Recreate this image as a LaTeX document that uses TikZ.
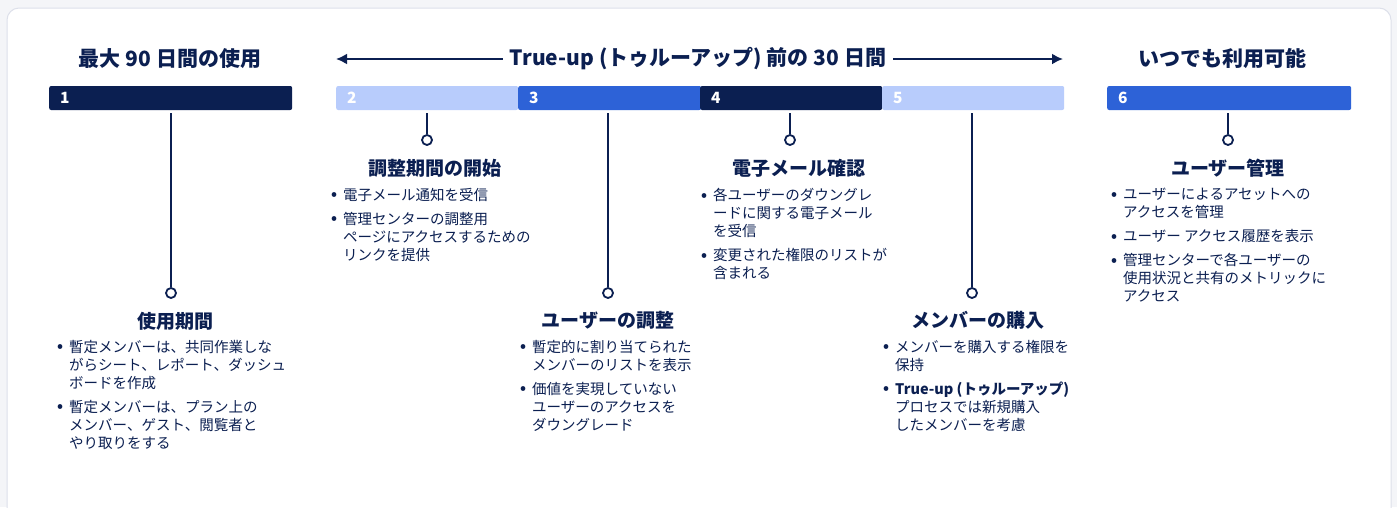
\documentclass[tikz,border=0pt]{standalone}
\usepackage{fontspec}
\setmainfont{Noto Sans CJK JP}
\usetikzlibrary{arrows.meta}
\definecolor{navy}{HTML}{0B1F51}
\definecolor{skyblue}{HTML}{B8CCFC}
\definecolor{midblue}{HTML}{2D62D7}
\definecolor{cardline}{HTML}{DDE0EA}
\definecolor{pagebg}{HTML}{F4F5F8}
\newcommand{\blt}{\llap{\raisebox{0.5pt}{\fontsize{15}{15}\selectfont\bfseries •}\hspace{6pt}}}

\begin{document}
\begin{tikzpicture}
        [x=1pt, y=-1pt,
        bar/.style={rectangle, rounded corners=2pt, minimum height=24pt, inner sep=0pt, anchor=west},
        barnum/.style={anchor=west, text=white, font=\bfseries\fontsize{15.5}{16}\selectfont, inner sep=0pt},
        knob/.style={circle, draw=navy, line width=1.8pt, fill=white, minimum size=10pt, inner sep=0pt},
        stem/.style={draw=navy, line width=1.8pt, shorten <=3pt},
        toptitle/.style={text=navy, font=\bfseries\fontsize{21}{24}\selectfont, inner sep=0pt},
        steptitle/.style={text=navy, font=\bfseries\fontsize{19}{22}\selectfont, inner sep=0pt},
        stepbody/.style={text=navy, font=\fontsize{14.5}{18}\selectfont, align=left, anchor=north west, inner sep=0pt},
        arr/.style={draw=navy, line width=2pt, shorten <=7pt, -{Latex[length=11pt, width=11pt]}}]
        \useasboundingbox (0,0) rectangle (1397,507);
        \fill[pagebg] (0,0) rectangle (1397,507);
        \draw[cardline, fill=white, line width=1pt, rounded corners=12pt] (7,8) rectangle (1391,530);

        \node[toptitle] (h1) at (170,59) {最大 90 日間の使用};
        \node[toptitle] (h2) at (698,59) {True-up (トゥルーアップ) 前の 30 日間};
        \node[toptitle] (h3) at (1222,59) {いつでも利用可能};
        \coordinate (al) at (336,59);
        \coordinate (ar) at (1063,59);
        \draw[arr] (h2) -- (al);
        \draw[arr] (h2) -- (ar);

        \node[bar, fill=navy, minimum width=243pt] (b1) at (49,98) {};
        \node[bar, fill=skyblue, minimum width=182pt] (b2) at (336,98) {};
        \node[bar, fill=midblue, minimum width=183pt] (b3) at (518,98) {};
        \node[bar, fill=navy, minimum width=182pt] (b4) at (700,98) {};
        \node[bar, fill=skyblue, minimum width=182pt] (b5) at (882,98) {};
        \node[bar, fill=midblue, minimum width=244pt] (b6) at (1107,98) {};
        \foreach \i in {1,...,6}
          \node[barnum] (n\i) at ([xshift=11pt]b\i.west) {\i};

        \node[knob] (k1) at (171,293) {};
        \node[knob] (k2) at (427,140) {};
        \node[knob] (k3) at (608,293) {};
        \node[knob] (k4) at (790,140) {};
        \node[knob] (k5) at (972,293) {};
        \node[knob] (k6) at (1228,140) {};
        \foreach \i in {1,...,6}
          \draw[stem] (b\i.south -| k\i) -- (k\i);

        \node[steptitle] (t1) at (175,321) {使用期間};
        \node[steptitle] (t2) at (435,168) {調整期間の開始};
        \node[steptitle] (t3) at (608,320) {ユーザーの調整};
        \node[steptitle] (t4) at (799,168) {電子メール確認};
        \node[steptitle] (t5) at (978,320) {メンバーの購入};
        \node[steptitle] (t6) at (1228,168) {ユーザー管理};

        \node[stepbody] (d1) at (69,340)
          {\blt 暫定メンバーは、共同作業しな\\がらシート、レポート、ダッシュ\\ボードを作成\\[6pt]
           \blt 暫定メンバーは、プラン上の\\メンバー、ゲスト、閲覧者と\\やり取りをする};
        \node[stepbody] (d2) at (343,188)
          {\blt 電子メール通知を受信\\[6pt]
           \blt 管理センターの調整用\\ページにアクセスするための\\リンクを提供};
        \node[stepbody] (d3) at (532,340)
          {\blt 暫定的に割り当てられた\\メンバーのリストを表示\\[6pt]
           \blt 価値を実現していない\\ユーザーのアクセスを\\ダウングレード};
        \node[stepbody] (d4) at (713,188)
          {\blt 各ユーザーのダウングレ\\ードに関する電子メール\\を受信\\[6pt]
           \blt 変更された権限のリストが\\含まれる};
        \node[stepbody] (d5) at (895,340)
          {\blt メンバーを購入する権限を\\保持\\[6pt]
           \blt \textbf{True-up (トゥルーアップ)}\\プロセスでは新規購入\\したメンバーを考慮};
        \node[stepbody] (d6) at (1123,188)
          {\blt ユーザーによるアセットへの\\アクセスを管理\\[6pt]
           \blt ユーザー アクセス履歴を表示\\[6pt]
           \blt 管理センターで各ユーザーの\\使用状況と共有のメトリックに\\アクセス};
\end{tikzpicture}
\end{document}
